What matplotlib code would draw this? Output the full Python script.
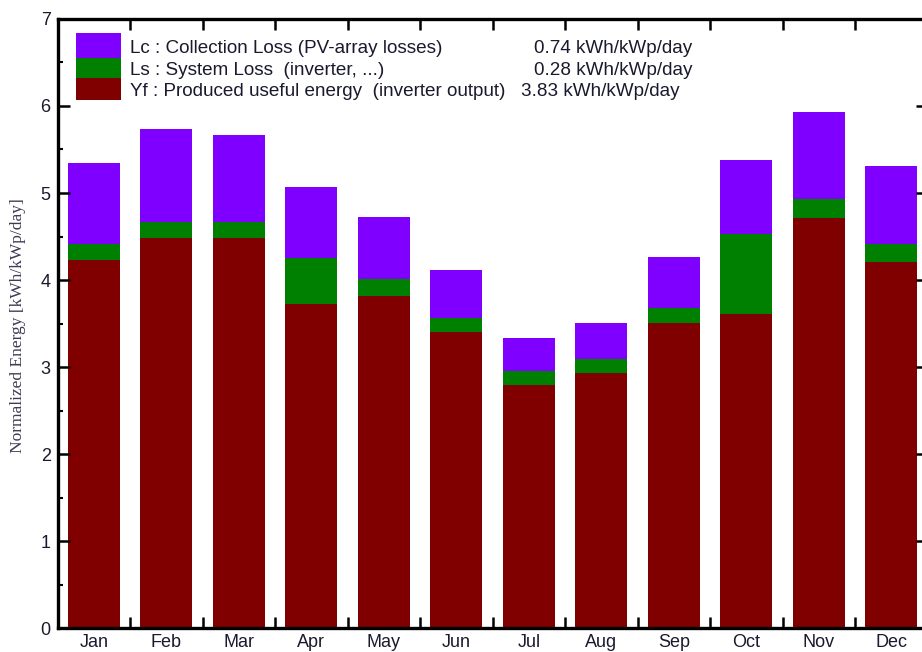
import numpy as np
import matplotlib
matplotlib.use("Agg")
import matplotlib.pyplot as plt
from matplotlib.patches import Rectangle

months = ["Jan", "Feb", "Mar", "Apr", "May", "Jun",
          "Jul", "Aug", "Sep", "Oct", "Nov", "Dec"]
# Yf : produced useful energy (inverter output)
yf = np.array([4.23, 4.48, 4.48, 3.73, 3.82, 3.40, 2.80, 2.93, 3.51, 3.61, 4.71, 4.21])
# Ls : system loss
ls = np.array([0.18, 0.19, 0.19, 0.52, 0.19, 0.17, 0.16, 0.16, 0.17, 0.92, 0.22, 0.20])
# Lc : collection loss
lc = np.array([0.94, 1.07, 1.00, 0.82, 0.72, 0.54, 0.38, 0.42, 0.59, 0.85, 1.00, 0.90])

legend_labels = ["Lc : Collection Loss (PV-array losses)",
                 "Ls : System Loss  (inverter, ...)",
                 "Yf : Produced useful energy  (inverter output)"]
legend_values = ["0.74 kWh/kWp/day", "0.28 kWh/kWp/day", "3.83 kWh/kWp/day"]

c_lc = "#8000ff"
c_ls = "#008000"
c_yf = "#800000"
txt = "#1a1a2e"

plt.rcParams["font.family"] = ["Liberation Sans", "DejaVu Sans"]

W, H = 922, 652
fig = plt.figure(figsize=(W / 100, H / 100), dpi=100)
# axes runs a bit past the right edge of the picture, like the original
ax = fig.add_axes([57.6 / W, (H - 628.3) / H, 870 / W, 609.4 / H])

x = np.arange(len(months))
bw = 0.72
ax.bar(x, yf, width=bw, color=c_yf, linewidth=0)
ax.bar(x, ls, width=bw, bottom=yf, color=c_ls, linewidth=0)
ax.bar(x, lc, width=bw, bottom=yf + ls, color=c_lc, linewidth=0)

ax.set_xlim(-0.5, len(months) - 0.5)
ax.set_ylim(0, 7)

# ticks at month boundaries, labels at centres
ax.set_xticks(np.arange(0.5, len(months) - 0.5, 1.0))
ax.set_xticklabels([])
ax.set_xticks(x, minor=True)
ax.set_xticklabels(months, minor=True, fontsize=13, color=txt)
ax.tick_params(axis="x", which="major", direction="in", length=8, width=1.8,
               top=True, bottom=True)
ax.tick_params(axis="x", which="minor", length=0, pad=4)

ax.set_yticks(np.arange(0, 8, 1))
ax.set_yticks(np.arange(0.5, 7, 1), minor=True)
ax.tick_params(axis="y", which="major", direction="in", length=8.5, width=1.8,
               left=True, right=True, labelsize=13, labelcolor=txt, pad=5)
ax.tick_params(axis="y", which="minor", direction="in", length=3.5, width=1.5,
               left=True, right=True)

for s in ax.spines.values():
    s.set_linewidth(2.4)

fig.text(18 / W, 0.50, "Normalized Energy [kWh/kWp/day]", rotation=90,
         ha="center", va="center", fontsize=12.5, color="#3c3c55",
         family=["Liberation Serif", "DejaVu Serif"])

# legend block: three stacked colours with text beside them
ax.add_patch(Rectangle((0.021, 0.936), 0.052, 0.041, transform=ax.transAxes,
                       color=c_lc, lw=0))
ax.add_patch(Rectangle((0.021, 0.903), 0.052, 0.033, transform=ax.transAxes,
                       color=c_ls, lw=0))
ax.add_patch(Rectangle((0.021, 0.867), 0.052, 0.036, transform=ax.transAxes,
                       color=c_yf, lw=0))
ys = [0.944, 0.908, 0.873]
vx = [0.5476, 0.5476, 0.5326]
for lab, val, yy, xx in zip(legend_labels, legend_values, ys, vx):
    ax.text(0.0833, yy, lab, transform=ax.transAxes, fontsize=13.6,
            color=txt, va="baseline", ha="left")
    ax.text(xx, yy, val, transform=ax.transAxes, fontsize=13.6,
            color=txt, va="baseline", ha="left")

plt.savefig("out.png", dpi=100)
